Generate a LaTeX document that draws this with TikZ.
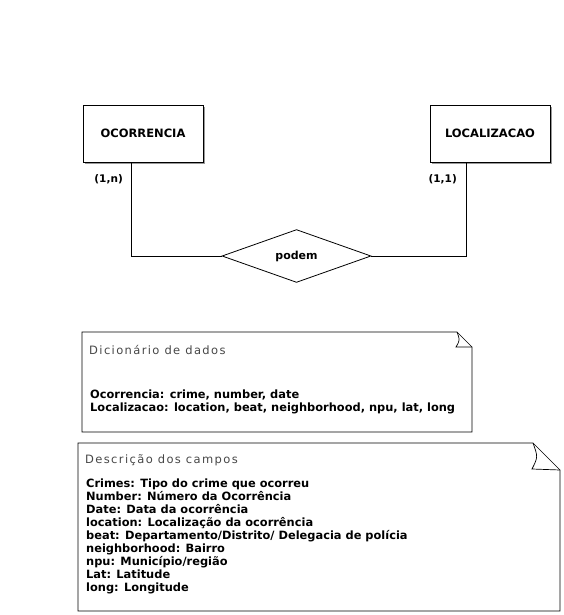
\documentclass[tikz,border=0pt]{standalone}
\usepackage{fontspec}
\setmainfont{DejaVu Sans}
\usetikzlibrary{shapes.geometric,shadows}

\begin{document}
\begin{tikzpicture}[x=1pt,y=1pt,
    entidade/.style={draw,line width=0.8pt,fill=white,minimum width=120pt,minimum height=57pt,inner sep=0pt,
      font=\fontsize{11.5}{13}\selectfont\bfseries,
      drop shadow={shadow xshift=1.6pt,shadow yshift=-1.6pt,opacity=0.8}},
    relacao/.style={draw,diamond,line width=0.8pt,minimum width=149pt,minimum height=50pt,inner sep=0pt,
      font=\fontsize{11}{13}\selectfont\bfseries},
    card/.style={inner sep=0pt,font=\fontsize{10.5}{12}\selectfont\bfseries},
    nota/.style={draw,line width=0.7pt},
    titulo/.style={anchor=base west,inner sep=0pt,text=black!72,
      font=\fontsize{11.5}{13}\selectfont\addfontfeatures{LetterSpace=12}},
    campos/.style={anchor=base west,inner sep=0pt,font=\fontsize{11.4}{13}\selectfont\bfseries}
  ]
    \useasboundingbox (0,0) rectangle (563,-615);

    % diagrama ER
    \node[entidade] (ocor) at (143,-133.5) {OCORRENCIA};
    \node[entidade] (local) at (490,-133.5) {LOCALIZACAO};
    \node[relacao] (podem) at (296.5,-256) {podem};
    \draw[line width=0.8pt] ([xshift=-12pt]ocor.south) |- (podem.west);
    \draw[line width=0.8pt] (podem.east) -| ([xshift=-24pt]local.south);
    \node[card,anchor=north east] (card1) at ([xshift=-20pt,yshift=-12pt]ocor.south) {(1,n)};
    \node[card,anchor=north east] (card2) at ([xshift=-33pt,yshift=-12pt]local.south) {(1,1)};

    % dicionario de dados
    \draw[nota] (82,-332) -- (457,-332) -- (472,-347) -- (472,-432) -- (82,-432) -- cycle;
    \draw[nota] (457,-332) .. controls (460,-340) .. (456,-347) -- (472,-347);
    \node[titulo] (dic) at (89,-354) {Dicionário de dados};
    \foreach \linha [count=\i] in {{Ocorrencia: crime, number, date},
        {Localizacao: location, beat, neighborhood, npu, lat, long}}
      \node[campos] (dic\i) at ({90},{-385-13*\i}) {\linha};

    % descricao dos campos
    \draw[nota] (78,-443) -- (533,-443) -- (560,-470) -- (560,-611) -- (78,-611) -- cycle;
    \draw[nota] (533,-443) .. controls (538,-457) .. (532,-469) -- (560,-470);
    \node[titulo] (desc) at (85,-463) {Descrição dos campos};
    \foreach \linha [count=\i] in {Crimes: Tipo do crime que ocorreu,
        Number: Número da Ocorrência,
        Date: Data da ocorrência,
        location: Localização da ocorrência,
        beat: Departamento/Distrito/ Delegacia de polícia,
        neighborhood: Bairro,
        npu: Município/região,
        Lat: Latitude,
        long: Longitude}
      \node[campos] (desc\i) at ({86},{-474-13*\i}) {\linha};
\end{tikzpicture}
\end{document}
